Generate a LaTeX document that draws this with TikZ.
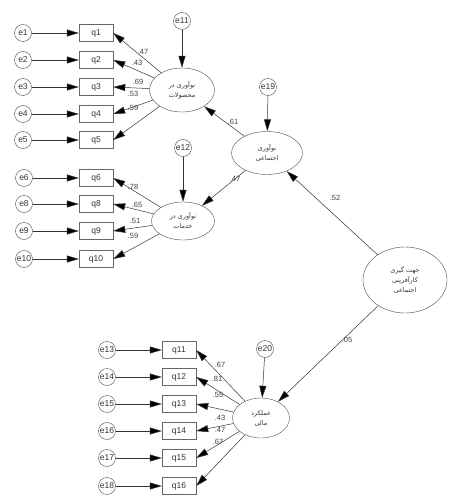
\documentclass[tikz,border=0pt]{standalone}
\usepackage{fontspec}
\setmainfont{Liberation Sans}
\newfontfamily\arabicfont[Script=Arabic]{DejaVu Sans}
\TeXXeTstate=1
\usetikzlibrary{arrows.meta,shapes.geometric}
\newcommand{\fa}[1]{{\arabicfont\beginR #1\endR}}
\tikzset{
  err/.style={draw=black!70, circle, minimum size=17pt, inner sep=0pt, text=black!80, font=\fontsize{8.5}{9}\selectfont},
  obs/.style={draw=black!60, rectangle, minimum width=34pt, minimum height=17pt, inner sep=0pt, text=black!80, font=\fontsize{8.5}{9}\selectfont},
  lat/.style={draw=black!70, ellipse, inner sep=0pt, align=center, text=black!80, font=\fontsize{6.5}{10}\selectfont},
  reg/.style={draw=black!80, line width=0.5pt, -{Triangle[length=12pt,width=7pt,fill=black]}},
  lbl/.style={font=\fontsize{7.5}{8}\selectfont, text=black!75, inner sep=0pt},
}
\begin{document}
\begin{tikzpicture}[x=1pt, y=-1pt]
\useasboundingbox (0,0) rectangle (473,500);
% latent variables
\node[lat, minimum width=65pt, minimum height=44pt] (prod) at (182,90) {\fa{نوآوری در}\\\fa{محصولات}};
\node[lat, minimum width=63pt, minimum height=38pt] (serv) at (183,221) {\fa{نوآوری در}\\\fa{خدمات}};
\node[lat, minimum width=71pt, minimum height=43pt] (soc) at (267,153) {\fa{نوآوری}\\\fa{اجتماعی}};
\node[lat, minimum width=84pt, minimum height=66pt] (orient) at (405,280) {\fa{جهت گیری}\\\fa{کارآفرینی}\\\fa{اجتماعی}};
\node[lat, minimum width=57pt, minimum height=40pt] (fin) at (261,418) {\fa{عملکرد}\\\fa{مالی}};
% residuals of latents
\node[err] (e11) at (182,21) {e11};
\node[err] (e12) at (183,148) {e12};
\node[err] (e19) at (268,87) {e19};
\node[err] (e20) at (265,349) {e20};
\draw[reg] (e11) -- (prod);
\draw[reg] (e12) -- (serv);
\draw[reg] (e19) -- (soc);
\draw[reg] (e20) -- (fin);
% structural paths
\draw[reg] (soc) -- (prod);
\draw[reg] (soc) -- (serv);
\draw[reg] (orient) -- (soc);
\draw[reg] (orient) -- (fin);
\node[lbl] (p1) at (233,122) {.61};
\node[lbl] (p2) at (235,179) {.47};
\node[lbl] (p3) at (335,198) {.52};
\node[lbl] (p4) at (347,340) {.05};
% indicators
\foreach \i/\y in {1/33, 2/60, 3/87, 4/114, 5/140} {
  \node[err] (e\i) at (23,\y) {e\i};
  \node[obs] (q\i) at (96,\y) {q\i};
  \draw[reg] (e\i) -- (q\i);
  \draw[reg] (prod) -- (q\i.east);
}
\foreach \i/\y in {6/178, 8/204, 9/231, 10/259} {
  \node[err] (e\i) at (24,\y) {e\i};
  \node[obs] (q\i) at (96,\y) {q\i};
  \draw[reg] (e\i) -- (q\i);
  \draw[reg] (serv) -- (q\i.east);
}
\foreach \i/\y [evaluate=\i as \e using int(\i+2)] in {11/350, 12/377, 13/404, 14/431, 15/458, 16/486} {
  \node[err] (e\e) at (107,\y) {e\e};
  \node[obs] (q\i) at (179,\y) {q\i};
  \draw[reg] (e\e) -- (q\i);
  \draw[reg] (fin) -- (q\i.east);
}
% loadings
\foreach \l/\x/\y [count=\k] in {.47/143/52, .43/137/63, .69/138/82, .53/133/94, .59/133/108,
    .78/133/187, .65/137/205, .51/135/221, .59/133/236,
    .67/220/365, .81/217/379, .55/218/395, .43/220/418, .47/220/430, .67/218/442}
  \node[lbl] (l\k) at (\x,\y) {\l};
\end{tikzpicture}
\end{document}
